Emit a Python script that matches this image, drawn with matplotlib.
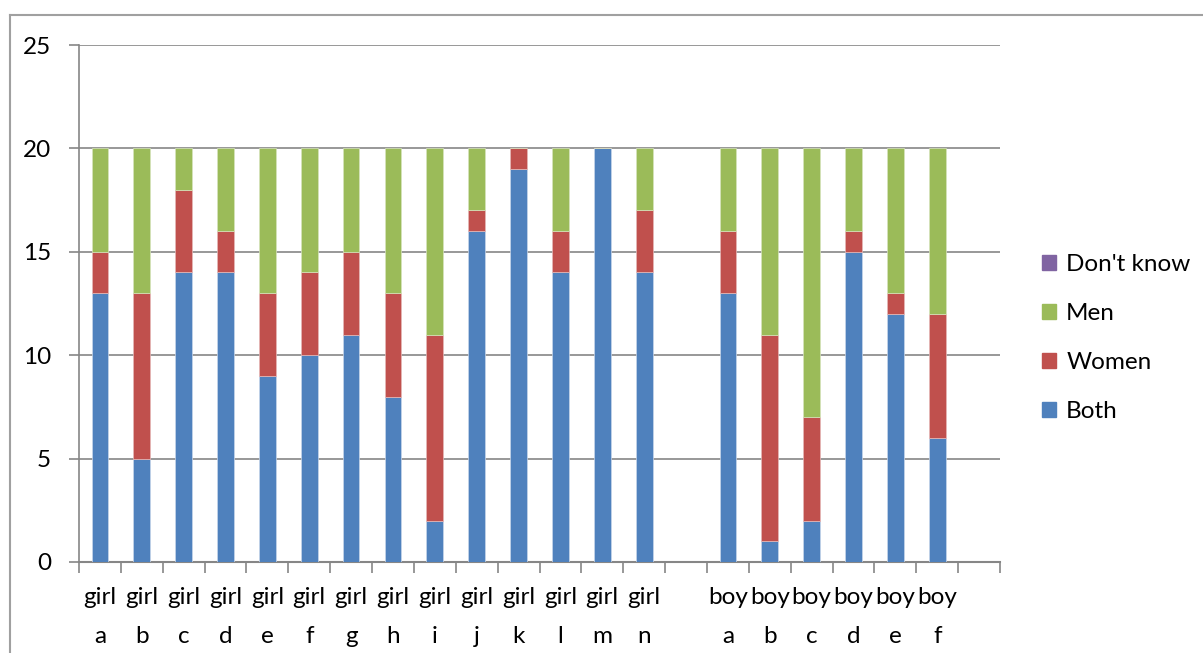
import matplotlib.pyplot as plt
from matplotlib.patches import Patch
from matplotlib.lines import Line2D

plt.rcParams['font.family'] = ['Lato', 'DejaVu Sans']

# categorias: 14 chicas, hueco, 6 chicos, hueco
etiquetas = ["girl\na", "girl\nb", "girl\nc", "girl\nd", "girl\ne", "girl\nf", "girl\ng",
             "girl\nh", "girl\ni", "girl\nj", "girl\nk", "girl\nl", "girl\nm", "girl\nn",
             "",
             "boy\na", "boy\nb", "boy\nc", "boy\nd", "boy\ne", "boy\nf",
             ""]
both = [13, 5, 14, 14, 9, 10, 11, 8, 2, 16, 19, 14, 20, 14, 0, 13, 1, 2, 15, 12, 6, 0]
women = [2, 8, 4, 2, 4, 4, 4, 5, 9, 1, 1, 2, 0, 3, 0, 3, 10, 5, 1, 1, 6, 0]
men = [5, 7, 2, 4, 7, 6, 5, 7, 9, 3, 0, 4, 0, 3, 0, 4, 9, 13, 4, 7, 8, 0]
dont_know = [0] * 22

c_both = "#4F81BD"
c_women = "#C0504D"
c_men = "#9BBB59"
c_dk = "#8064A2"
gris = "#868686"

fig = plt.figure(figsize=(12.03, 6.53), dpi=100)
ax = fig.add_axes([79 / 1203, 1 - 562 / 653, 921 / 1203, 517 / 653])

x = list(range(len(etiquetas)))
abajo2 = [b + w for b, w in zip(both, women)]
abajo3 = [a + m for a, m in zip(abajo2, men)]
ax.bar(x, both, width=0.4, color=c_both, edgecolor="#c8d6ea", linewidth=0.5, zorder=3)
ax.bar(x, women, width=0.4, bottom=both, color=c_women, edgecolor="#e6b9b8", linewidth=0.5, zorder=3)
ax.bar(x, men, width=0.4, bottom=abajo2, color=c_men, edgecolor="#d7e4bd", linewidth=0.5, zorder=3)
ax.bar(x, dont_know, width=0.4, bottom=abajo3, color=c_dk, linewidth=0, zorder=3)

ax.set_xlim(-0.5, len(etiquetas) - 0.5)
ax.set_ylim(0, 25)
ax.set_yticks(range(0, 26, 5))
ax.yaxis.grid(True, color=gris, linewidth=1.2, zorder=0)
ax.set_axisbelow(True)

ax.set_xticks([i + 0.5 for i in range(-1, len(etiquetas))])
ax.set_xticklabels([])
ax.set_xticks(x, minor=True)
ax.set_xticklabels(etiquetas, minor=True, fontsize=17.5, linespacing=2.05)
ax.tick_params(axis="x", which="minor", length=0, pad=18)
ax.tick_params(axis="x", which="major", length=8, width=1.2, color=gris)
ax.tick_params(axis="y", length=7, width=1.2, color=gris, labelsize=17.5, pad=13)

for lado in ["top", "right"]:
    ax.spines[lado].set_visible(False)
ax.spines["left"].set_color(gris)
ax.spines["bottom"].set_color(gris)
ax.spines["left"].set_linewidth(1.2)
ax.spines["bottom"].set_linewidth(1.5)

# marco del grafico recortado
fig.add_artist(Line2D([10 / 1203, 1.0], [1 - 15 / 653, 1 - 15 / 653], color="#a0a0a0", linewidth=1.5))
fig.add_artist(Line2D([10 / 1203, 10 / 1203], [0, 1 - 15 / 653], color="#a0a0a0", linewidth=1.5))

handles = [Patch(color=c_dk, label="Don't know"), Patch(color=c_men, label="Men"),
           Patch(color=c_women, label="Women"), Patch(color=c_both, label="Both")]
fig.legend(handles=handles, loc="center left", bbox_to_anchor=(1020 / 1203, 1 - 338 / 653),
           frameon=False, fontsize=17.5, handlelength=0.6, handleheight=0.6,
           handletextpad=0.4, labelspacing=1.15)

plt.savefig("out.png", dpi=100)
